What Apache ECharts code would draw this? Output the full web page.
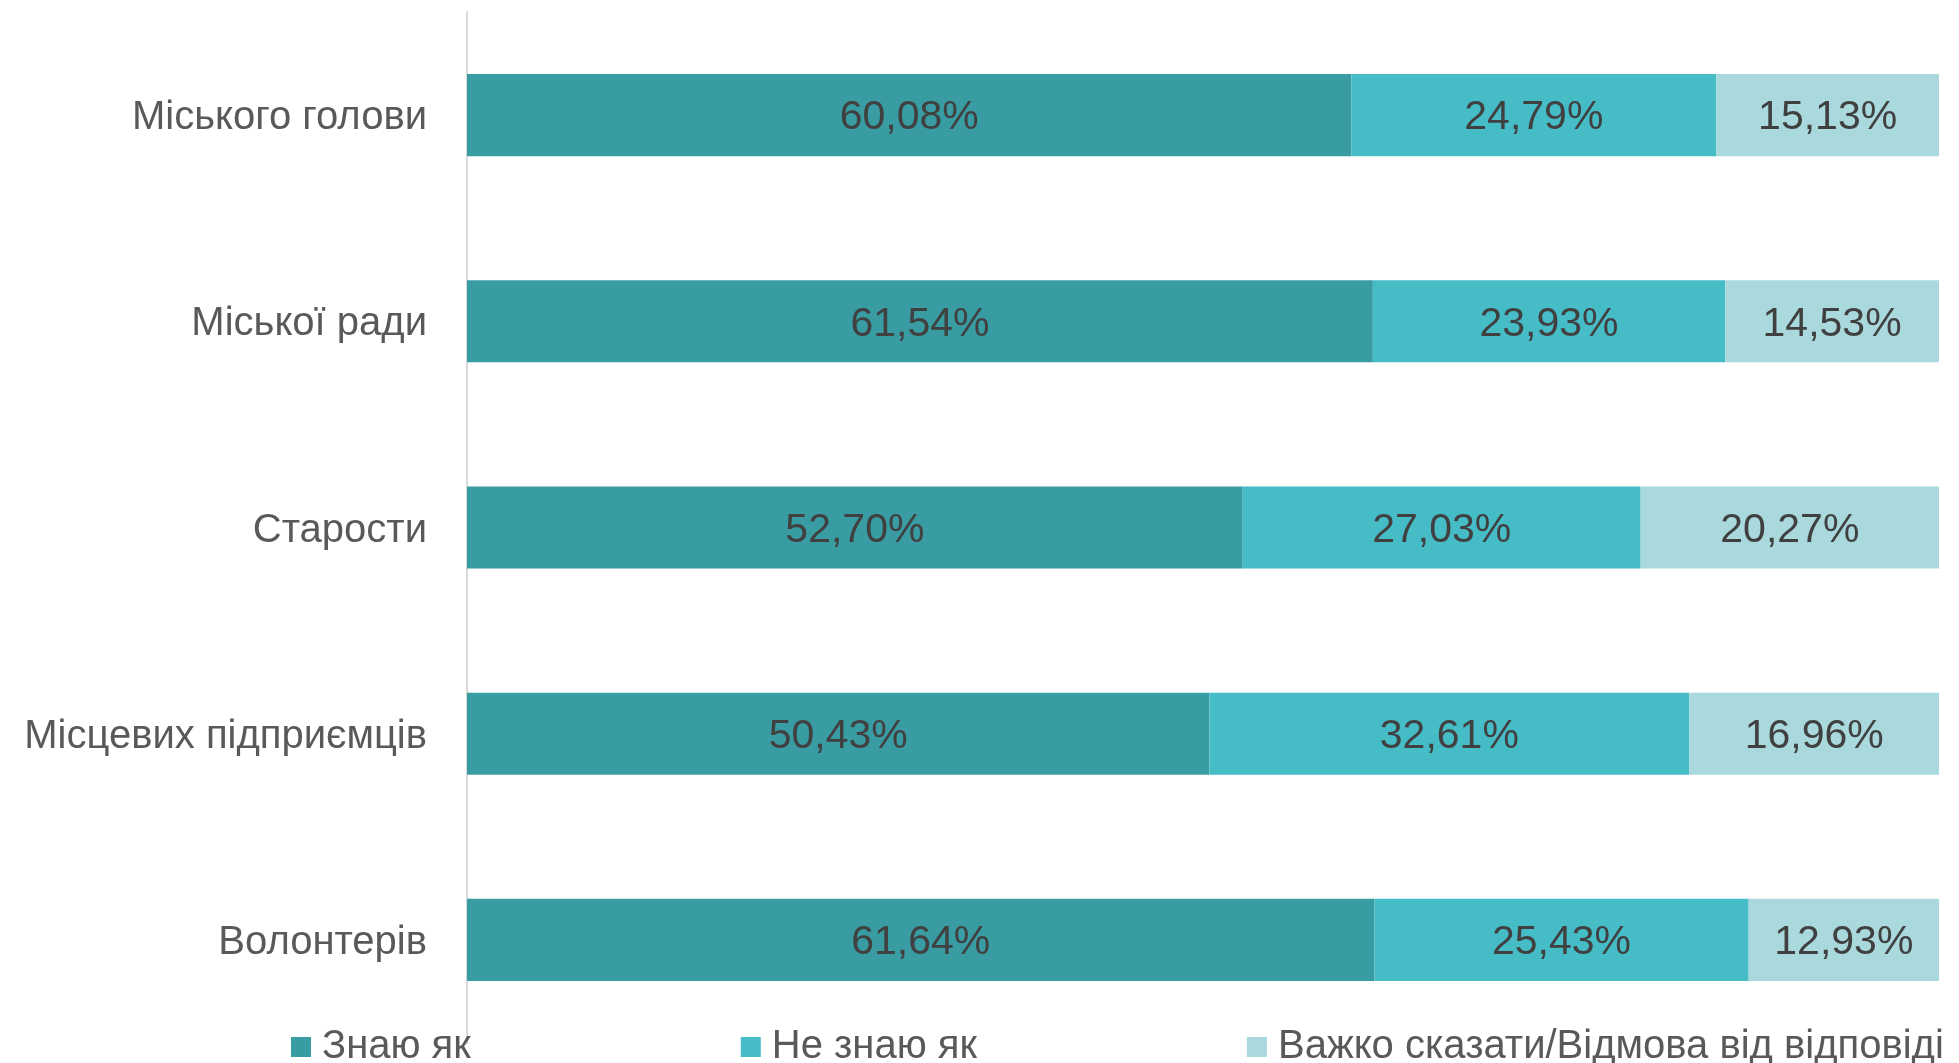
<!DOCTYPE html>
<html>
<head>
<meta charset="utf-8">
<script src="https://cdn.jsdelivr.net/npm/echarts@6/dist/echarts.min.js"></script>
<style>
html,body{margin:0;padding:0;background:#fff;}
#chart{width:1959px;height:1063px;}
</style>
</head>
<body>
<div id="chart"></div>
<script>
const categories = ["Міського голови", "Міської ради", "Старости", "Місцевих підприємців", "Волонтерів"];
const seriesNames = ["Знаю як", "Не знаю як", "Важко сказати/Відмова від відповіді"];
const knowHow = [60.08, 61.54, 52.70, 50.43, 61.64];
const dontKnowHow = [24.79, 23.93, 27.03, 32.61, 25.43];
const hardToSay = [15.13, 14.53, 20.27, 16.96, 12.93];
const colors = ["#389CA2", "#46BCC7", "#A9D9DD"];

const FONT = "Liberation Sans";
const valuesList = [knowHow, dontKnowHow, hardToSay];

const chart = echarts.init(document.getElementById('chart'));
chart.setOption({
  animation: false,
  backgroundColor: '#ffffff',
  grid: { left: 467, right: 20, top: 12, bottom: 20 },
  xAxis: { type: 'value', min: 0, max: 100, show: false },
  yAxis: {
    type: 'category',
    data: categories,
    inverse: true,
    axisLine: { show: true, lineStyle: { color: '#D9D9D9', width: 2 } },
    axisTick: { show: false },
    axisLabel: {
      color: '#595959', fontFamily: FONT, fontSize: 40, margin: 40,
      formatter: v => '{a|' + v + '}',
      rich: { a: { color: '#595959', fontFamily: FONT, fontSize: 40, padding: [6, 0, 0, 0] } }
    }
  },
  legend: {
    data: seriesNames,
    left: 286,
    top: 1022,
    itemGap: 270,
    itemWidth: 20,
    itemHeight: 20,
    icon: 'rect',
    textStyle: { color: '#595959', fontFamily: FONT, fontSize: 40, padding: [0, 0, 0, 6] }
  },
  series: seriesNames.map((name, i) => ({
    name: name,
    type: 'bar',
    stack: 'total',
    data: valuesList[i],
    barWidth: '39.8%',
    itemStyle: { color: colors[i] },
    label: {
      show: true,
      position: 'inside',
      offset: [0, 3],
      color: '#404040',
      fontFamily: FONT,
      fontSize: 41,
      formatter: p => p.value.toFixed(2).replace('.', ',') + '%'
    }
  }))
});
</script>
</body>
</html>
